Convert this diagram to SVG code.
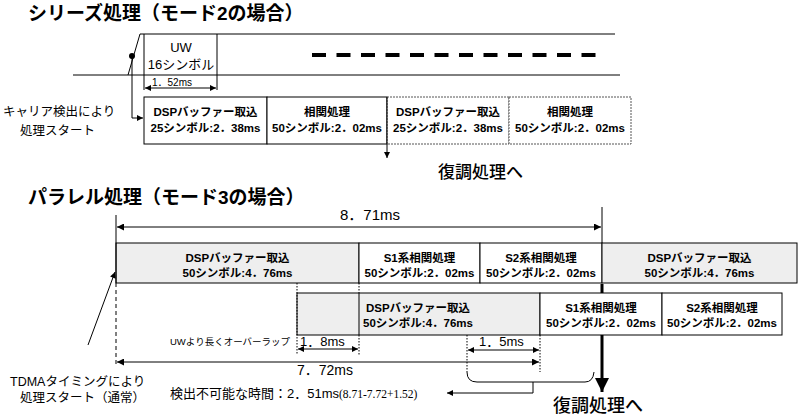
<svg xmlns="http://www.w3.org/2000/svg" width="800" height="417" viewBox="0 0 800 417">
<defs>
<marker id="ah" viewBox="0 0 10 10" refX="10" refY="5" markerWidth="10" markerHeight="7" markerUnits="userSpaceOnUse" orient="auto-start-reverse"><path d="M0,0 L10,5 L0,10 z" fill="#000"/></marker>
<marker id="ahs" viewBox="0 0 10 10" refX="10" refY="5" markerWidth="8" markerHeight="6" markerUnits="userSpaceOnUse" orient="auto-start-reverse"><path d="M0,0 L10,5 L0,10 z" fill="#000"/></marker>
<marker id="ahb" viewBox="0 0 10 10" refX="10" refY="5" markerWidth="14" markerHeight="14" markerUnits="userSpaceOnUse" orient="auto"><path d="M0,0 L10,5 L0,10 z" fill="#000"/></marker>
</defs>
<style>
text{font-family:"Liberation Sans","Noto Sans CJK JP",sans-serif;fill:#000}
.ttl{font-size:19px;font-weight:bold}
.bx{font-size:11.5px;font-weight:bold;text-anchor:middle}
.lbl{font-size:12.5px}
.big{font-size:17px;font-family:"Noto Sans CJK JP",sans-serif;font-weight:500}
.dim{font-size:14px}
.box{fill:#fff;stroke:#000;stroke-width:1}
.gry{fill:#eeeeee;stroke:#000;stroke-width:1}
.dbox{fill:#fff;stroke:#555;stroke-width:1;stroke-dasharray:2 1}
.ln{stroke:#000;stroke-width:1;fill:none}
.dot{stroke:#000;stroke-width:1;fill:none;stroke-dasharray:1.5 1.5}
</style>
<rect width="800" height="417" fill="#fff"/>

<!-- Titles -->
<text class="ttl" x="28" y="20">シリーズ処理（モード2の場合）</text>
<text class="ttl" x="28" y="204">パラレル処理（モード3の場合）</text>

<!-- Series: signal -->
<g id="signal">
<polyline class="ln" points="128,75 140,34 615,34"/>
<line class="ln" x1="73" y1="75" x2="620" y2="75"/>
<line class="ln" x1="144" y1="34" x2="144" y2="90"/>
<line class="ln" x1="217" y1="34" x2="217" y2="90"/>
<line x1="312" y1="55" x2="600" y2="55" stroke="#000" stroke-width="4" stroke-dasharray="14 10.5"/>
<circle cx="132" cy="56" r="3" fill="#000"/>
<text x="181" y="52" text-anchor="middle" style="font-size:13px">UW</text>
<text x="181" y="69" text-anchor="middle" style="font-size:13px">16シンボル</text>
<text x="152" y="86" style="font-size:10px">1．52ms</text>
</g>

<g id="s-box1"><rect class="box" x="144" y="97" width="123" height="47"/>
<text class="bx" x="205.5" y="116">DSPバッファー取込</text><text class="bx" x="205.5" y="132">25シンボル:2．38ms</text></g>
<g id="s-box2"><rect class="box" x="267" y="97" width="120" height="47"/>
<text class="bx" x="327" y="116">相関処理</text><text class="bx" x="327" y="132">50シンボル:2．02ms</text></g>
<g id="s-box3"><rect class="dbox" x="387" y="97" width="122" height="47"/>
<text class="bx" x="448" y="116">DSPバッファー取込</text><text class="bx" x="448" y="132">25シンボル:2．38ms</text></g>
<g id="s-box4"><rect class="dbox" x="509" y="97" width="122" height="47"/>
<text class="bx" x="570" y="116">相関処理</text><text class="bx" x="570" y="132">50シンボル:2．02ms</text></g>
<line class="ln" x1="387" y1="97" x2="387" y2="144"/>

<g id="s-labels">
<text class="lbl" x="3" y="116">キャリア検出により</text>
<text class="lbl" x="20" y="135">処理スタート</text>
<text class="big" x="438" y="178">復調処理へ</text>
</g>

<!-- Parallel -->
<g id="p-r1b1"><rect class="gry" x="116" y="243" width="243" height="40"/>
<text class="bx" x="237.5" y="262">DSPバッファー取込</text><text class="bx" x="237.5" y="277">50シンボル:4．76ms</text></g>
<g id="p-r1b2"><rect class="box" x="359" y="243" width="121" height="40"/>
<text class="bx" x="419.5" y="262">S1系相関処理</text><text class="bx" x="419.5" y="277">50シンボル:2．02ms</text></g>
<g id="p-r1b3"><rect class="box" x="480" y="243" width="122" height="40"/>
<text class="bx" x="541" y="262">S2系相関処理</text><text class="bx" x="541" y="277">50シンボル:2．02ms</text></g>
<g id="p-r1b4"><rect class="gry" x="602" y="243" width="195" height="40"/>
<text class="bx" x="699.5" y="262">DSPバッファー取込</text><text class="bx" x="699.5" y="277">50シンボル:4．76ms</text></g>

<g id="p-r2b1"><rect class="gry" x="297" y="293" width="243" height="42"/>
<line class="ln" x1="359" y1="293" x2="359" y2="335"/>
<text class="bx" x="418" y="312">DSPバッファー取込</text><text class="bx" x="418" y="327">50シンボル:4．76ms</text></g>
<g id="p-r2b2"><rect class="box" x="540" y="293" width="122" height="42"/>
<text class="bx" x="601" y="312">S1系相関処理</text><text class="bx" x="601" y="327">50シンボル:2．02ms</text></g>
<g id="p-r2b3"><rect class="box" x="662" y="293" width="120" height="42"/>
<text class="bx" x="722" y="312">S2系相関処理</text><text class="bx" x="722" y="327">50シンボル:2．02ms</text></g>

<g id="p-labels">
<text x="340" y="220" style="font-size:15px">8．71ms</text>
<text x="297" y="375" class="dim">7．72ms</text>
<text x="300" y="346" style="font-size:13px">1．8ms</text>
<text x="479" y="346" style="font-size:13px">1．5ms</text>
<text x="170" y="345" style="font-size:9.5px">UWより長くオーバーラップ</text>
<text x="170" y="398" style="font-size:13px">検出不可能な時間：2．51ms<tspan style="font-family:'Liberation Serif',serif;font-size:11.5px">(8.71-7.72+1.52)</tspan></text>
<text class="lbl" x="10" y="386">TDMAタイミングにより</text>
<text class="lbl" x="20" y="402">処理スタート（通常）</text>
<text class="big" x="553" y="412" style="font-size:18px">復調処理へ</text>
</g>

<g id="connectors">
<!-- series -->
<polyline class="ln" points="132,56 132,118 143,118" marker-end="url(#ahs)"/>
<line class="ln" x1="145" y1="88" x2="216" y2="88" marker-start="url(#ahs)" marker-end="url(#ahs)"/>
<line class="ln" x1="387" y1="144" x2="387" y2="158" marker-end="url(#ahs)"/>
<!-- parallel -->
<line class="ln" x1="116" y1="215" x2="116" y2="283"/>
<line class="ln" x1="116" y1="283" x2="116" y2="366" stroke-dasharray="4 3"/>
<line class="ln" x1="602" y1="207" x2="602" y2="243"/>
<line x1="602" y1="284" x2="602" y2="293" stroke="#000" stroke-width="3"/>
<line x1="602" y1="335" x2="602" y2="392" stroke="#000" stroke-width="3" marker-end="url(#ahb)"/>
<line class="ln" x1="117" y1="227" x2="601" y2="227" marker-start="url(#ah)" marker-end="url(#ah)"/>
<line class="ln" x1="117" y1="362" x2="539" y2="362" marker-start="url(#ah)" marker-end="url(#ah)"/>
<line class="dot" x1="297" y1="283" x2="297" y2="355"/>
<line class="dot" x1="359" y1="283" x2="359" y2="293"/>
<line class="dot" x1="359" y1="335" x2="359" y2="355"/>
<line class="ln" x1="298" y1="349" x2="358" y2="349" marker-start="url(#ahs)" marker-end="url(#ahs)"/>
<line class="dot" x1="467" y1="335" x2="467" y2="372"/>
<line class="dot" x1="540" y1="335" x2="540" y2="372"/>
<line class="ln" x1="468" y1="350" x2="539" y2="350" marker-start="url(#ahs)" marker-end="url(#ahs)"/>
<path class="ln" d="M467,372 Q467,382 477,382 L585,382 Q593,382 594,372"/>
<polyline class="ln" points="533,382 533,393 447,393" marker-end="url(#ahs)"/>
<line class="ln" x1="88" y1="345" x2="115" y2="272" marker-end="url(#ahs)"/>
</g>
</svg>
